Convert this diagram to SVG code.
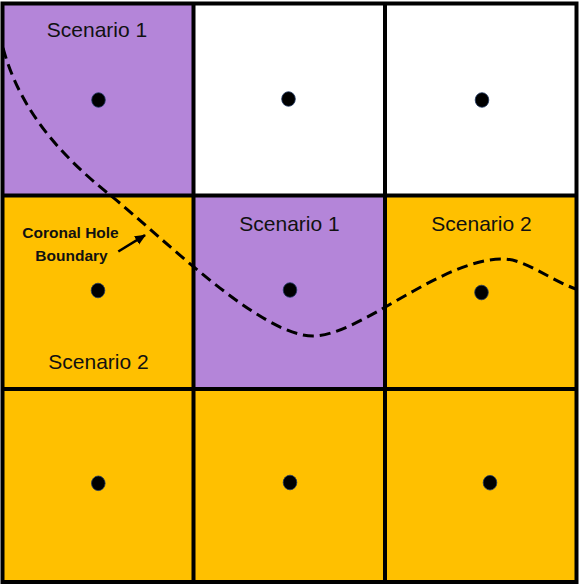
<svg xmlns="http://www.w3.org/2000/svg" width="579" height="585" viewBox="0 0 579 585">
<style>
.purple{fill:#B485D9}
.orange{fill:#FFC000}
.white{fill:#FFFFFF}
.grid{fill:none;stroke:#000;stroke-width:4}
.dot{fill:#000;stroke:#1F3864;stroke-width:0.8}
.lbl{font-family:"Liberation Sans",Arial,sans-serif;font-size:21px;fill:#111;text-anchor:middle}
.ann{font-family:"Liberation Sans",Arial,sans-serif;font-size:15.5px;font-weight:bold;fill:#111;text-anchor:middle}
.curve{fill:none;stroke:#000;stroke-width:3;stroke-dasharray:11 6}
</style>
<defs>
<marker id="ah" viewBox="0 0 10 10" refX="9" refY="5" markerWidth="4.2" markerHeight="4.2" orient="auto" markerUnits="strokeWidth">
<path d="M0,0.5 L10,5 L0,9.5 z" fill="#000"/>
</marker>
</defs>
<rect x="0" y="0" width="579" height="585" fill="#fff"/>
<g id="cell-r1c1"><rect class="purple" x="2.5" y="3.5" width="191" height="192"/><ellipse class="dot" cx="98.5" cy="100" rx="6.8" ry="7.3"/><text class="lbl" x="97" y="37">Scenario 1</text></g>
<g id="cell-r1c2"><rect class="white" x="193.5" y="3.5" width="191.5" height="192"/><ellipse class="dot" cx="288.5" cy="99" rx="6.8" ry="7.3"/></g>
<g id="cell-r1c3"><rect class="white" x="385" y="3.5" width="191.5" height="192"/><ellipse class="dot" cx="482" cy="100" rx="6.8" ry="7.3"/></g>
<g id="cell-r2c1"><rect class="orange" x="2.5" y="195.5" width="191" height="193.5"/><ellipse class="dot" cx="98" cy="290.5" rx="6.8" ry="7.3"/><text class="lbl" x="98.5" y="368.5">Scenario 2</text></g>
<g id="cell-r2c2"><rect class="purple" x="193.5" y="195.5" width="191.5" height="193.5"/><ellipse class="dot" cx="290" cy="290" rx="6.8" ry="7.3"/><text class="lbl" x="289.5" y="231">Scenario 1</text></g>
<g id="cell-r2c3"><rect class="orange" x="385" y="195.5" width="191.5" height="193.5"/><ellipse class="dot" cx="481.5" cy="292.5" rx="6.8" ry="7.3"/><text class="lbl" x="481.5" y="231">Scenario 2</text></g>
<g id="cell-r3c1"><rect class="orange" x="2.5" y="389" width="191" height="193"/><ellipse class="dot" cx="98.3" cy="483.3" rx="6.8" ry="7.3"/></g>
<g id="cell-r3c2"><rect class="orange" x="193.5" y="389" width="191.5" height="193"/><ellipse class="dot" cx="290" cy="482.5" rx="6.8" ry="7.3"/></g>
<g id="cell-r3c3"><rect class="orange" x="385" y="389" width="191.5" height="193"/><ellipse class="dot" cx="490" cy="482.7" rx="6.8" ry="7.3"/></g>
<g id="grid-lines">
<rect class="grid" x="2.5" y="3.5" width="574" height="578.5"/>
<line class="grid" x1="193.5" y1="3.5" x2="193.5" y2="582"/>
<line class="grid" x1="385" y1="3.5" x2="385" y2="582"/>
<line class="grid" x1="2.5" y1="195.5" x2="576.5" y2="195.5"/>
<line class="grid" x1="2.5" y1="389" x2="576.5" y2="389"/>
</g>
<g id="coronal-hole-boundary">
<path class="curve" d="M3,48 C20,110 60,155 110,195 C160,235 260,336 313,336 C360,336 440,259 503,259 C525,259 550,280 576,289"/>
</g>
<g id="connectors">
<line x1="118.3" y1="251.5" x2="145" y2="235.2" stroke="#000" stroke-width="2.6" marker-end="url(#ah)"/>
</g>
<g id="annotation">
<text class="ann" x="70.5" y="237.5">Coronal Hole</text>
<text class="ann" x="71.5" y="261">Boundary</text>
</g>
</svg>
